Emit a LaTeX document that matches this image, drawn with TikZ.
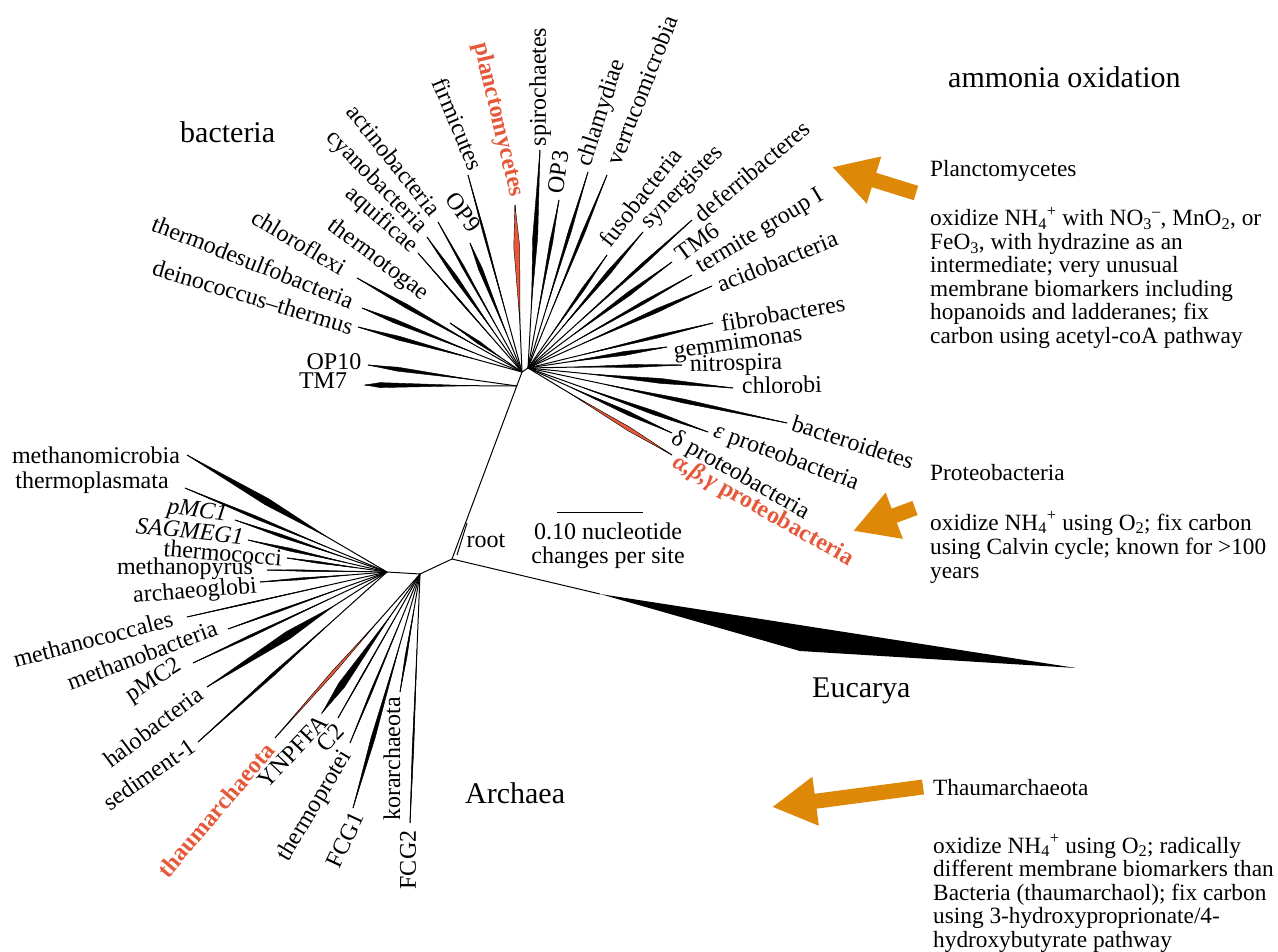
\documentclass[tikz,border=0pt]{standalone}
\usepackage{fontspec}
\setmainfont{Liberation Serif}
\usetikzlibrary{calc,arrows.meta}
\definecolor{tred}{RGB}{229,88,58}
\definecolor{aorange}{RGB}{222,136,8}
\tikzset{
  brl/.style={line width=1pt, draw=black},
  lab/.style={font=\fontsize{24}{24}\selectfont, inner sep=0.5pt},
  rlab/.style={lab, text=tred, font=\fontsize{24}{24}\selectfont\bfseries},
  hd/.style={font=\fontsize{30}{30}\selectfont, inner sep=0pt, anchor=base west},
  body/.style={font=\fontsize{23.3}{23.3}\selectfont, inner sep=0pt, anchor=base west},
  oarrow/.style={line width=15pt, draw=aorange, -{Triangle[length=44pt,width=46pt]}},
}
% #1 fill colour, #2 hub, #3 tip, #4 half width, #5 fraction of widest point
\newcommand\grp[5][black]{%
  \draw[brl] (#2) -- (#3);
  \coordinate (gm) at ($(#2)!#5!(#3)$);
  \filldraw[fill=#1, draw=black, line width=0.4pt] ($(#2)!0.3!(#3)$) -- ($(gm)!#4pt!90:(#3)$) -- (#3) -- ($(gm)!#4pt!-90:(#3)$) -- cycle;
}
\begin{document}
\begin{tikzpicture}[x=1pt,y=-1pt]
\useasboundingbox (0,0) rectangle (1278,952);
% ---------- internal nodes ----------
\coordinate (HB) at (522,372);
\coordinate (HR) at (528,368);
\coordinate (TB) at (517,386);
\coordinate (R)  at (452,559);
\coordinate (AM) at (420,574);
\coordinate (AL) at (387,572);
\coordinate (E0) at (600,594);
\coordinate (EK) at (800,651);
\coordinate (ET) at (1076,668);
\draw[brl] (HB) -- (HR);
\draw[brl] (HB) -- (R);
\draw[brl] (R) -- (AM);
\draw[brl] (AM) -- (AL);
\draw[brl] (R) -- (E0);
\fill[black] (E0) -- (ET) -- (EK) -- cycle;
% ---------- bacteria tips ----------
\coordinate (tOPten) at (368,365);
\coordinate (tTMseven) at (365,385);
\coordinate (tDein) at (358,327);
\coordinate (tTdes) at (362,308);
\coordinate (tChlf) at (357,278);
\coordinate (tTtog) at (450,323);
\coordinate (tAqui) at (418,253);
\coordinate (tCyan) at (427,237);
\coordinate (tActi) at (438,222);
\coordinate (tOPnine) at (470,243);
\coordinate (tFirm) at (468,175);
\coordinate (tPlan) at (515,205);
\coordinate (tSpir) at (540,150);
\coordinate (tOPthree) at (559,200);
\coordinate (tChla) at (588,172);
\coordinate (tVerr) at (607,175);
\coordinate (tFuso) at (607,255);
\coordinate (tSyne) at (643,232);
\coordinate (tDefe) at (692,220);
\coordinate (tTMsix) at (672,262);
\coordinate (tTerm) at (692,275);
\coordinate (tAcid) at (712,286);
\coordinate (tFibr) at (713,323);
\coordinate (tGemm) at (667,347);
\coordinate (tNitr) at (682,365);
\coordinate (tChlo) at (733,388);
\coordinate (tBact) at (787,423);
\coordinate (tEps) at (708,432);
\coordinate (tDel) at (672,433);
\coordinate (tAbg) at (672,455);
\grp{TB}{tOPten}{2}{0.8}
\grp{TB}{tTMseven}{2.5}{0.9}
\grp{HB}{tDein}{2}{0.75}
\grp{HB}{tTdes}{2}{0.8}
\grp{HB}{tChlf}{2}{0.7}
\grp{HB}{tTtog}{1.5}{0.6}
\grp{HB}{tAqui}{0.7}{0.6}
\grp{HB}{tCyan}{2}{0.7}
\grp{HB}{tActi}{1.2}{0.7}
\grp{HB}{tOPnine}{2}{0.8}
\grp{HB}{tFirm}{1}{0.7}
\grp[tred]{HB}{tPlan}{3}{0.75}
\grp{HR}{tSpir}{2.5}{0.6}
\grp{HR}{tOPthree}{1.5}{0.75}
\grp{HR}{tChla}{1.5}{0.7}
\grp{HR}{tVerr}{1.5}{0.7}
\grp{HR}{tFuso}{1.5}{0.7}
\grp{HR}{tSyne}{2}{0.7}
\grp{HR}{tDefe}{1.5}{0.7}
\grp{HR}{tTMsix}{2}{0.7}
\grp{HR}{tTerm}{1.5}{0.7}
\grp{HR}{tAcid}{2}{0.7}
\grp{HR}{tFibr}{1.5}{0.7}
\grp{HR}{tGemm}{2}{0.7}
\grp{HR}{tNitr}{1.5}{0.7}
\grp{HR}{tChlo}{2.5}{0.65}
\grp{HR}{tBact}{2}{0.6}
\grp{HR}{tEps}{2}{0.7}
\grp{HR}{tDel}{2}{0.7}
\grp[tred]{HR}{tAbg}{2}{0.7}
% ---------- archaea tips ----------
\coordinate (tMmic) at (187,455);
\coordinate (tTpla) at (185,488);
\coordinate (tPMCone) at (235,520);
\coordinate (tSag) at (248,540);
\coordinate (tTcoc) at (287,558);
\coordinate (tMpyr) at (267,570);
\coordinate (tAglo) at (260,582);
\coordinate (tMcoc) at (187,617);
\coordinate (tMbac) at (228,629);
\coordinate (tPMCtwo) at (193,663);
\coordinate (tHalo) at (207,687);
\coordinate (tSedi) at (198,742);
\coordinate (tThau) at (275,738);
\coordinate (tYnp) at (322,713);
\coordinate (tCtwo) at (338,718);
\coordinate (tTpro) at (350,743);
\coordinate (tFCGone) at (353,808);
\coordinate (tKora) at (400,692);
\coordinate (tFCGtwo) at (410,823);
\grp{AL}{tMmic}{3.5}{0.6}
\grp{AL}{tTpla}{1.5}{0.65}
\grp{AL}{tPMCone}{1.5}{0.7}
\grp{AL}{tSag}{1.5}{0.7}
\grp{AL}{tTcoc}{1}{0.7}
\grp{AL}{tMpyr}{0.7}{0.7}
\grp{AL}{tAglo}{1}{0.7}
\grp{AL}{tMcoc}{0.5}{0.7}
\grp{AL}{tMbac}{1}{0.7}
\grp{AL}{tPMCtwo}{1.2}{0.7}
\grp{AL}{tHalo}{4}{0.55}
\grp{AL}{tSedi}{1.5}{0.6}
\grp[tred]{AM}{tThau}{1.5}{0.6}
\grp{AM}{tYnp}{3.5}{0.8}
\grp{AM}{tCtwo}{0.5}{0.7}
\grp{AM}{tTpro}{1}{0.7}
\grp{AM}{tFCGone}{2}{0.7}
\grp{AM}{tKora}{1}{0.7}
\grp{AM}{tFCGtwo}{0.8}{0.7}
% ---------- root mark and scale bar ----------
\coordinate (rmA) at (457,555);
\coordinate (rmB) at (467,523);
\draw[brl] (rmA) -- (rmB);
\node[lab] (root) at (486,541) {root};
\coordinate (sbA) at (557,512);
\coordinate (sbB) at (643,512);
\draw[brl] (sbA) -- (sbB);
\node[lab] (scaleA) at (608,531) {0.10 nucleotide};
\node[lab] (scaleB) at (608,558) {changes per site};
% ---------- bacteria labels ----------
\node[lab] (lOPten) at (334,362) {OP10};
\node[lab] (lTMseven) at (323,381) {TM7};
\node[lab,rotate=-16.7] (lDein) at (253,297) {deinococcus–thermus};
\node[lab,rotate=-21.6] (lTdes) at (253,262) {thermodesulfobacteria};
\node[lab,rotate=-30.9] (lChlf) at (299,242) {chloroflexi};
\node[lab,rotate=-37] (lTtog) at (378,260) {thermotogae};
\node[lab,rotate=-41.4] (lAqui) at (381,220) {aquificae};
\node[lab,rotate=-45.6] (lCyan) at (376,182) {cyanobacteria};
\node[lab,rotate=-51.3] (lActi) at (394,160) {actinobacteria};
\node[lab,rotate=-53.9] (lOPnine) at (463,212) {OP9};
\node[lab,rotate=-67] (lFirm) at (458,124) {firmicutes};
\node[rlab,rotate=-76.5] (lPlan) at (498,120) {planctomycetes};
\node[lab,rotate=90] (lSpir) at (540,87) {spirochaetes};
\node[lab,rotate=82] (lOPthree) at (558,172) {OP3};
\node[lab,rotate=72] (lChla) at (602,113) {chlamydiae};
\node[lab,rotate=68.7] (lVerr) at (642,90) {verrucomicrobia};
\node[lab,rotate=52] (lFuso) at (640,197) {fusobacteria};
\node[lab,rotate=45.8] (lSyne) at (683,188) {synergistes};
\node[lab,rotate=40] (lDefe) at (752,171) {deferribacteres};
\node[lab,rotate=36] (lTMsix) at (697,242) {TM6};
\node[lab,rotate=31] (lTerm) at (760,232) {termite group I};
\node[lab,rotate=22] (lAcid) at (777,261) {acidobacteria};
\node[lab,rotate=9.5] (lFibr) at (783,313) {fibrobacteres};
\node[lab,rotate=8] (lGemm) at (738,344) {gemmimonas};
\node[lab,rotate=2] (lNitr) at (736,365) {nitrospira};
\node[lab,rotate=1] (lChlo) at (782,385) {chlorobi};
\node[lab,rotate=-18] (lBact) at (853,442) {bacteroidetes};
\node[lab,rotate=-20.3] (lEps) at (786,458) {\textit{ε} proteobacteria};
\node[lab,rotate=-29.7] (lDel) at (740,476) {δ proteobacteria};
\node[rlab,rotate=-29.4] (lAbg) at (763,511) {\textit{α,β,γ} proteobacteria};
% ---------- archaea labels ----------
\node[lab] (lMmic) at (96,455) {methanomicrobia};
\node[lab] (lTpla) at (92,483) {thermoplasmata};
\node[lab,rotate=-8] (lPMCone) at (197,512) {\textit{pMC1}};
\node[lab,rotate=-6] (lSag) at (190,531) {\textit{SAGMEG1}};
\node[lab,rotate=-5] (lTcoc) at (223,553) {thermococci};
\node[lab] (lMpyr) at (185,569) {methanopyrus};
\node[lab,rotate=4.6] (lAglo) at (195,592) {archaeoglobi};
\node[lab,rotate=14.7] (lMcoc) at (93,639) {methanococcales};
\node[lab,rotate=20.5] (lMbac) at (142,655) {methanobacteria};
\node[lab,rotate=32.5] (lPMCtwo) at (154,681) {pMC2};
\node[lab,rotate=37] (lHalo) at (153,727) {halobacteria};
\node[lab,rotate=35] (lSedi) at (149,774) {sediment-1};
\node[rlab,rotate=49.7] (lThau) at (216,810) {thaumarchaeota};
\node[lab,rotate=46.4] (lYnp) at (293,751) {YNPFFA};
\node[lab,rotate=47] (lCtwo) at (330,738) {C2};
\node[lab,rotate=59] (lTpro) at (315,806) {thermoprotei};
\node[lab,rotate=65] (lFCGone) at (345,840) {FCG1};
\node[lab,rotate=90] (lKora) at (392,759) {korarchaeota};
\node[lab,rotate=90] (lFCGtwo) at (408,860) {FCG2};
% ---------- headings ----------
\node[hd] (hBac) at (180,143) {bacteria};
\node[hd] (hArc) at (465,803) {Archaea};
\node[hd] (hEuc) at (812,697) {Eucarya};
\node[hd] (hAmm) at (948,88) {ammonia oxidation};
% ---------- arrows ----------
\coordinate (aOneT) at (916,193);
\coordinate (aOneH) at (832,167);
\coordinate (aTwoT) at (915,508);
\coordinate (aTwoH) at (853,531);
\coordinate (aThrT) at (923,787);
\coordinate (aThrH) at (772,807);
\draw[oarrow] (aOneT) -- (aOneH);
\draw[oarrow] (aTwoT) -- (aTwoH);
\draw[oarrow] (aThrT) -- (aThrH);
% ---------- right-hand texts ----------
\node[body] (pT) at (930,177) {Planctomycetes};
\node[body] (pA) at (930,226) {oxidize NH\textsubscript{4}\textsuperscript{+} with NO\textsubscript{3}\textsuperscript{–}, MnO\textsubscript{2}, or};
\node[body] (pB) at (930,249.4) {FeO\textsubscript{3}, with hydrazine as an};
\node[body] (pC) at (930,272.8) {intermediate; very unusual};
\node[body] (pD) at (930,296.2) {membrane biomarkers including};
\node[body] (pE) at (930,319.6) {hopanoids and ladderanes; fix};
\node[body] (pF) at (930,343) {carbon using acetyl-coA pathway};
\node[body] (qT) at (930,480) {Proteobacteria};
\node[body] (qA) at (930,530) {oxidize NH\textsubscript{4}\textsuperscript{+} using O\textsubscript{2}; fix carbon};
\node[body] (qB) at (930,554) {using Calvin cycle; known for >100};
\node[body] (qC) at (930,578) {years};
\node[body] (rT) at (933,795) {Thaumarchaeota};
\node[body] (rA) at (933,853) {oxidize NH\textsubscript{4}\textsuperscript{+} using O\textsubscript{2}; radically};
\node[body] (rB) at (933,876.5) {different membrane biomarkers than};
\node[body] (rC) at (933,900) {Bacteria (thaumarchaol); fix carbon};
\node[body] (rD) at (933,923.5) {using 3-hydroxyproprionate/4-};
\node[body] (rE) at (933,947) {hydroxybutyrate pathway};
\end{tikzpicture}
\end{document}
